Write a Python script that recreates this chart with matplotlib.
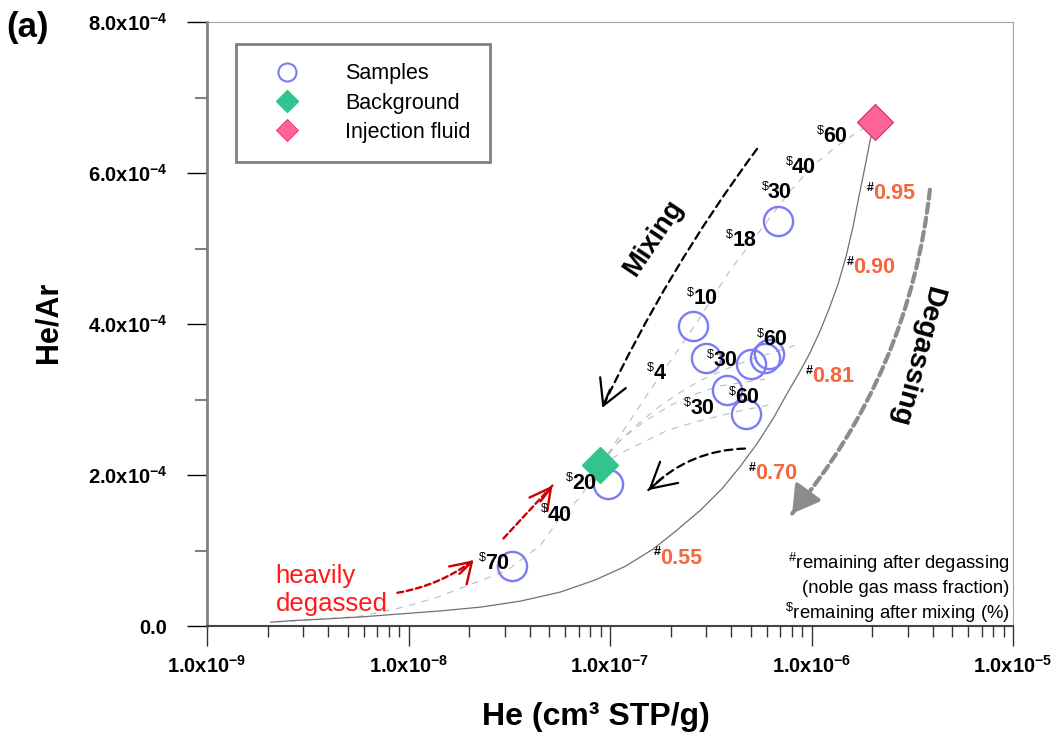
import matplotlib
matplotlib.use("Agg")
import matplotlib.pyplot as plt
from matplotlib.lines import Line2D
from matplotlib.patches import FancyArrowPatch
from matplotlib.ticker import LogLocator, MultipleLocator, NullFormatter

plt.rcParams["font.family"] = ["Liberation Sans", "DejaVu Sans"]
plt.rcParams["mathtext.fontset"] = "custom"
plt.rcParams["mathtext.rm"] = "Liberation Sans"
plt.rcParams["mathtext.bf"] = "Liberation Sans:bold"

# --- measured samples (He in cm3 STP/g, He/Ar) ---
sample_he = [6.85e-7, 2.59e-7, 3.00e-7, 5.01e-7, 5.89e-7, 6.17e-7,
             3.82e-7, 4.74e-7, 9.73e-8, 3.28e-8]
sample_hear = [5.36e-4, 3.97e-4, 3.55e-4, 3.47e-4, 3.55e-4, 3.60e-4,
               3.13e-4, 2.81e-4, 1.88e-4, 0.79e-4]

background_he, background_hear = 8.95e-8, 2.13e-4
injection_he, injection_hear = 2.065e-6, 6.68e-4

# --- degassing path of the injection fluid ---
degas_he = [2.065e-6, 1.95e-6, 1.845e-6, 1.72e-6, 1.607e-6, 1.486e-6,
            1.355e-6, 1.222e-6, 1.104e-6, 9.84e-7, 8.67e-7, 7.57e-7, 6.46e-7,
            5.38e-7, 4.42e-7, 3.60e-7, 2.80e-7, 2.15e-7, 1.64e-7, 1.19e-7,
            8.45e-8, 5.68e-8, 3.60e-8, 2.28e-8, 1.44e-8, 9.14e-9, 5.78e-9,
            3.66e-9, 2.60e-9, 2.07e-9]
degas_hear = [6.68e-4, 6.42e-4, 6.09e-4, 5.69e-4, 5.29e-4, 4.90e-4, 4.53e-4,
              4.20e-4, 3.91e-4, 3.62e-4, 3.35e-4, 3.08e-4, 2.75e-4, 2.42e-4,
              2.11e-4, 1.82e-4, 1.53e-4, 1.27e-4, 1.02e-4, 0.79e-4, 0.61e-4,
              0.45e-4, 0.33e-4, 0.25e-4, 0.20e-4, 0.16e-4, 0.12e-4, 0.09e-4,
              0.07e-4, 0.05e-4]
degas_labels = ["0.95", "0.90", "0.81", "0.70", "0.55"]
degas_label_he = [2.02e-6, 1.61e-6, 1.007e-6, 5.25e-7, 1.77e-7]
degas_label_hear = [5.73e-4, 4.75e-4, 3.31e-4, 2.02e-4, 0.90e-4]

# --- mixing lines from the background ---
mix1_he = [8.95e-8, 1.58e-7, 2.59e-7, 3.94e-7, 6.03e-7, 7.83e-7, 1.02e-6,
           1.31e-6, 1.64e-6, 2.065e-6]
mix1_hear = [2.13e-4, 3.12e-4, 3.95e-4, 4.71e-4, 5.36e-4, 5.76e-4, 6.10e-4,
             6.34e-4, 6.52e-4, 6.68e-4]
mix2_he = [8.95e-8, 1.06e-7, 1.34e-7, 1.78e-7, 2.37e-7, 2.90e-7, 3.82e-7,
           5.08e-7, 6.76e-7, 8.79e-7]
mix2_hear = [2.13e-4, 2.39e-4, 2.65e-4, 2.92e-4, 3.14e-4, 3.27e-4, 3.41e-4,
             3.54e-4, 3.64e-4, 3.74e-4]
mix3_he = [8.95e-8, 1.12e-7, 1.50e-7, 1.99e-7, 2.50e-7, 3.52e-7, 5.89e-7]
mix3_hear = [2.13e-4, 2.46e-4, 2.72e-4, 2.92e-4, 3.05e-4, 3.18e-4, 3.27e-4]
mix4_he = [8.95e-8, 1.19e-7, 1.53e-7, 1.92e-7, 2.80e-7, 4.43e-7, 6.24e-7]
mix4_hear = [2.13e-4, 2.32e-4, 2.46e-4, 2.59e-4, 2.72e-4, 2.85e-4, 2.93e-4]
mix5_he = [8.95e-8, 7.98e-8, 7.13e-8, 5.87e-8, 4.52e-8, 3.59e-8, 3.10e-8,
           2.03e-8, 1.39e-8, 9.44e-9, 5.78e-9, 3.27e-9, 2.07e-9]
mix5_hear = [2.13e-4, 1.93e-4, 1.70e-4, 1.50e-4, 1.07e-4, 0.87e-4, 0.74e-4,
             0.55e-4, 0.38e-4, 0.25e-4, 0.13e-4, 0.08e-4, 0.05e-4]

mix_labels = ["60", "40", "30", "18", "10", "4", "30", "60", "60", "30",
              "20", "40", "70"]
mix_label_he = [1.14e-6, 8.00e-7, 6.08e-7, 4.04e-7, 2.59e-7, 1.64e-7, 3.25e-7,
                5.74e-7, 4.17e-7, 2.50e-7, 6.50e-8, 4.89e-8, 2.41e-8]
mix_label_hear = [6.48e-4, 6.07e-4, 5.74e-4, 5.10e-4, 4.34e-4, 3.34e-4,
                  3.51e-4, 3.80e-4, 3.02e-4, 2.88e-4, 1.89e-4, 1.47e-4, 0.83e-4]

y_ticks = [0.0, 2e-4, 4e-4, 6e-4, 8e-4]
y_ticklabels = ["0.0", r"$\mathbf{2.0x10^{-4}}$", r"$\mathbf{4.0x10^{-4}}$",
                r"$\mathbf{6.0x10^{-4}}$", r"$\mathbf{8.0x10^{-4}}$"]
x_ticks = [1e-9, 1e-8, 1e-7, 1e-6, 1e-5]
x_ticklabels = [r"$\mathbf{1.0x10^{-9}}$", r"$\mathbf{1.0x10^{-8}}$",
                r"$\mathbf{1.0x10^{-7}}$", r"$\mathbf{1.0x10^{-6}}$",
                r"$\mathbf{1.0x10^{-5}}$"]

BLUE = "#7b7bf5"
GREEN = "#33c38f"
PINK = "#ff6496"
ORANGE = "#f4663c"
MIXGRAY = "#bcbcbc"

fig = plt.figure(figsize=(10.6, 7.44), dpi=100)
ax = fig.add_axes([207 / 1060, 1 - 626 / 744, 806 / 1060, 604 / 744])
ax.set_xscale("log")
ax.set_xlim(1e-9, 1e-5)
ax.set_ylim(0, 8e-4)

# mixing lines
for hx, hy in [(mix1_he, mix1_hear), (mix2_he, mix2_hear), (mix3_he, mix3_hear),
               (mix4_he, mix4_hear), (mix5_he, mix5_hear)]:
    ax.plot(hx, hy, color=MIXGRAY, lw=0.8, dashes=(6, 6), zorder=1)

# degassing curve
ax.plot(degas_he, degas_hear, color="#707070", lw=0.9, zorder=2)

ax.plot(sample_he, sample_hear, "o", ms=21, mfc="none", mec=BLUE, mew=1.7,
        zorder=4)
ax.plot(background_he, background_hear, "D", ms=18, color=GREEN, mec=GREEN,
        zorder=5)
ax.plot(injection_he, injection_hear, "D", ms=18, color=PINK, mec="#e8206a",
        mew=0.8, zorder=5)

# labels with small superscript markers
for txt, hx, hy in zip(mix_labels, mix_label_he, mix_label_hear):
    ax.text(hx, hy, txt, fontsize=15.5, fontweight="bold", ha="left",
            va="center", zorder=6)
    ax.annotate("$", (hx, hy), xytext=(0.5, 4), textcoords="offset points",
                fontsize=9, ha="right", va="center", zorder=6)
for txt, hx, hy in zip(degas_labels, degas_label_he, degas_label_hear):
    ax.text(hx, hy, txt, fontsize=15.5, fontweight="bold", ha="left",
            va="center", color=ORANGE, zorder=6)
    ax.annotate("#", (hx, hy), xytext=(0.5, 4), textcoords="offset points",
                fontsize=9, fontweight="bold", ha="right", va="center", zorder=6)


def dashed_arrow(start, tip, head_from, color, lw, dashes, rad, head):
    shaft = FancyArrowPatch(start, tip, arrowstyle="-",
                            connectionstyle=f"arc3,rad={rad}", color=color,
                            lw=lw, linestyle=(0, dashes), shrinkA=0, shrinkB=0,
                            zorder=3)
    ax.add_patch(shaft)
    tip_patch = FancyArrowPatch(head_from, tip, arrowstyle=head, color=color,
                                lw=lw, shrinkA=0, shrinkB=0, zorder=3)
    ax.add_patch(tip_patch)


dashed_arrow((5.37e-7, 6.32e-4), (9.16e-8, 2.89e-4), (1.00e-7, 3.13e-4),
             "black", 1.6, (3.5, 2.2), 0.05, "->,head_length=18,head_width=10")
dashed_arrow((4.68e-7, 2.35e-4), (1.55e-7, 1.80e-4), (1.84e-7, 1.97e-4),
             "black", 1.6, (3.5, 2.2), 0.2, "->,head_length=18,head_width=10")
dashed_arrow((3.87e-6, 5.78e-4), (8.02e-7, 1.49e-4), (9.51e-7, 1.76e-4),
             "#8c8c8c", 3.0, (2.2, 1.2), -0.15, "-|>,head_length=16,head_width=9.5")
dashed_arrow((8.81e-9, 0.44e-4), (2.10e-8, 0.87e-4), (1.79e-8, 0.69e-4),
             "#cc0000", 1.7, (2.5, 1.5), 0.12, "->,head_length=14,head_width=9")
dashed_arrow((2.96e-8, 1.16e-4), (5.18e-8, 1.86e-4), (4.52e-8, 1.65e-4),
             "#cc0000", 1.7, (2.5, 1.5), 0.0, "->,head_length=15,head_width=8")

ax.text(1.64e-7, 5.14e-4, "Mixing", fontsize=19.5, fontweight="bold",
        rotation=56, ha="center", va="center")
ax.text(3.3e-6, 3.58e-4, "Degassing", fontsize=20.5, fontweight="bold",
        rotation=-105, ha="center", va="center")
ax.text(2.19e-9, 0.568e-4, "heavily", fontsize=18.5, color="#ff1a1a",
        ha="left", va="baseline")
ax.text(2.19e-9, 0.198e-4, "degassed", fontsize=18.5, color="#ff1a1a",
        ha="left", va="baseline")

note = [r"$^{\#}$remaining after degassing", "(noble gas mass fraction)",
        r"$^{\$}$remaining after mixing (%)"]
for i, line in enumerate(note):
    ax.text(0.996, 0.104 - i * 0.0414, line, transform=ax.transAxes,
            fontsize=13.3, ha="right", va="center")

# axes styling
ax.set_yticks(y_ticks)
ax.set_yticklabels(y_ticklabels)
ax.yaxis.set_minor_locator(MultipleLocator(1e-4))
ax.set_xticks(x_ticks)
ax.set_xticklabels(x_ticklabels)
ax.xaxis.set_minor_locator(LogLocator(base=10, subs=range(2, 10), numticks=20))
ax.xaxis.set_minor_formatter(NullFormatter())

ax.tick_params(axis="y", which="major", direction="out", length=14.5,
               width=1, color="black", pad=14, labelsize=14.5)
ax.tick_params(axis="y", which="minor", direction="out", length=8.5,
               width=1.5, color="#808080")
ax.tick_params(axis="x", which="major", direction="out", length=14.5,
               width=1, color="#333333", pad=6, labelsize=14.5)
ax.tick_params(axis="x", which="minor", direction="out", length=8,
               width=1, color="#333333")
for lbl in ax.get_yticklabels() + ax.get_xticklabels():
    lbl.set_fontweight("bold")

ax.spines["left"].set_color("#808080")
ax.spines["left"].set_linewidth(2.0)
ax.spines["bottom"].set_color("#444444")
ax.spines["bottom"].set_linewidth(1.5)
for side in ("top", "right"):
    ax.spines[side].set_color("#a0a0a0")
    ax.spines[side].set_linewidth(0.8)

ax.set_xlabel("He (cm³ STP/g)", fontsize=23, fontweight="bold")
ax.xaxis.set_label_coords(0.483, -0.126)
ax.set_ylabel("He/Ar", fontsize=22, fontweight="bold")
ax.yaxis.set_label_coords(-0.178, 0.502)

fig.text(28 / 1060, 1 - 28 / 744, "(a)", fontsize=25, fontweight="bold",
         ha="center", va="center")

handles = [
    Line2D([], [], ls="none", marker="o", ms=13, mfc="none", mec=BLUE, mew=1.5),
    Line2D([], [], ls="none", marker="D", ms=11, color=GREEN),
    Line2D([], [], ls="none", marker="D", ms=11, color=PINK, mec="#e8206a",
           mew=0.6),
]
leg = ax.legend(handles, ["Samples", "Background", "Injection fluid"],
                loc="upper left", bbox_to_anchor=(236 / 1060, 1 - 44 / 744),
                bbox_transform=fig.transFigure, borderaxespad=0, fontsize=15.5,
                frameon=True, fancybox=False, framealpha=1, edgecolor="#808080",
                handlelength=2.94, handletextpad=1.23, borderpad=0.9,
                labelspacing=0.38)
leg.get_frame().set_linewidth(2.0)

fig.savefig("out.png", dpi=100)
